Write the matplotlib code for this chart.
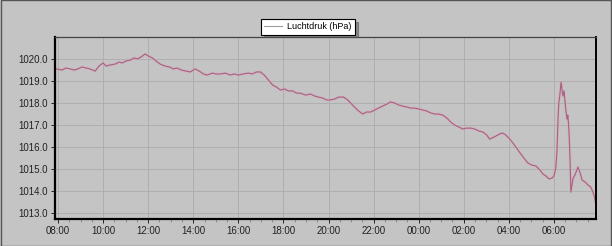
import matplotlib
matplotlib.use("Agg")
import matplotlib.pyplot as plt
import matplotlib.dates as mdates
import numpy as np
from datetime import datetime, timedelta

# minuten na 08:00 en luchtdruk (hPa)
minutes = [-5, 11, 21, 32, 43, 53, 64, 75, 85, 99, 109, 120, 128, 139, 152, 163, 171, 181,
           192, 203, 211, 221, 232, 240, 251, 261, 272, 285, 296, 307, 317, 328, 341, 352,
           365, 376, 387, 397, 411, 421, 432, 445, 459, 469, 480, 493, 507, 517, 528, 539,
           549, 560, 571, 581, 592, 603, 613, 624, 635, 645, 659, 672, 683, 693, 704, 715,
           725, 736, 747, 760, 771, 779, 789, 800, 811, 821, 832, 843, 853, 864, 875, 885,
           896, 907, 917, 928, 939, 949, 960, 971, 981, 992, 1003, 1013, 1024, 1035, 1045,
           1056, 1067, 1077, 1088, 1099, 1109, 1120, 1131, 1141, 1149, 1160, 1171, 1181,
           1189, 1200, 1211, 1221, 1232, 1240, 1251, 1261, 1272, 1283, 1291, 1299, 1307,
           1315, 1320, 1325, 1328, 1331, 1333, 1336, 1339, 1341, 1344, 1347, 1349, 1352,
           1355, 1357, 1360, 1363, 1365, 1368, 1371, 1376, 1384, 1389, 1395, 1403, 1411,
           1418, 1424, 1428, 1431]
pressure = [1019.55, 1019.50, 1019.59, 1019.55, 1019.50, 1019.55, 1019.64, 1019.59, 1019.55,
            1019.45, 1019.68, 1019.82, 1019.68, 1019.73, 1019.77, 1019.86, 1019.82, 1019.91,
            1019.95, 1020.05, 1020.00, 1020.09, 1020.23, 1020.14, 1020.05, 1019.91, 1019.77,
            1019.68, 1019.64, 1019.55, 1019.59, 1019.50, 1019.45, 1019.41,
            1019.55, 1019.45, 1019.32, 1019.27, 1019.36, 1019.32, 1019.32, 1019.36, 1019.27,
            1019.32, 1019.27, 1019.32, 1019.36, 1019.32, 1019.41, 1019.41,
            1019.27, 1019.05, 1018.82, 1018.73, 1018.59, 1018.64, 1018.55, 1018.55, 1018.45,
            1018.45, 1018.36, 1018.41, 1018.32, 1018.27, 1018.23, 1018.14,
            1018.14, 1018.18, 1018.27, 1018.27, 1018.14, 1018.00, 1017.82, 1017.64, 1017.50,
            1017.59, 1017.59, 1017.68, 1017.77, 1017.86, 1017.95, 1018.05,
            1018.00, 1017.91, 1017.86, 1017.82, 1017.77, 1017.77, 1017.73, 1017.68, 1017.64,
            1017.55, 1017.50, 1017.50, 1017.45, 1017.32, 1017.14,
            1017.00, 1016.91, 1016.82, 1016.86, 1016.86, 1016.82, 1016.73, 1016.68, 1016.55,
            1016.36, 1016.45, 1016.55, 1016.64,
            1016.59, 1016.41, 1016.18, 1015.95, 1015.68, 1015.50, 1015.27, 1015.18, 1015.14,
            1014.95, 1014.77, 1014.68, 1014.55,
            1014.59, 1014.68, 1015.05, 1015.77, 1017.32, 1018.00, 1018.41, 1018.95, 1018.68,
            1018.32, 1018.55, 1018.14, 1017.64,
            1017.27, 1017.45, 1016.77, 1015.41, 1013.95, 1014.27, 1014.59, 1014.73, 1015.09,
            1014.86, 1014.50, 1014.41, 1014.27,
            1014.18, 1013.95, 1013.73, 1013.45]

start = datetime(2012, 1, 1, 8, 0)
times = [start + timedelta(minutes=m) for m in minutes]

bg = "#c4c4c4"
fig = plt.figure(figsize=(6.12, 2.46), dpi=100, facecolor=bg)
ax = fig.add_axes((55 / 612, 27 / 246, 541 / 612, 182 / 246))
ax.set_facecolor(bg)

ax.plot(times, pressure, color="#d6aec0", lw=2.0, alpha=0.6, solid_joinstyle="round")
line, = ax.plot(times, pressure, color="#a8607f", lw=0.8, label="Luchtdruk (hPa)")

ax.set_xlim(start - timedelta(minutes=8), start + timedelta(minutes=1432))
ax.set_ylim(1012.73, 1021.0)
ax.set_yticks(np.arange(1013, 1021, 1.0))
ax.yaxis.set_major_formatter(matplotlib.ticker.FormatStrFormatter("%.1f"))
ax.xaxis.set_major_locator(mdates.HourLocator(byhour=range(0, 24, 2)))
ax.xaxis.set_minor_locator(mdates.MinuteLocator(byminute=[0, 30]))
ax.xaxis.set_major_formatter(mdates.DateFormatter("%H:%M"))

ax.grid(True, which="major", color="#acacac", lw=0.6)
ax.tick_params(axis="both", which="major", labelsize=7, length=3, width=0.7,
               colors="#222222", pad=2)
ax.tick_params(axis="x", which="minor", length=2, width=0.5, colors="#777777")
for lab in ax.get_xticklabels() + ax.get_yticklabels():
    lab.set_fontfamily("Liberation Sans")

ax.spines["left"].set_linewidth(1.6)
ax.spines["bottom"].set_linewidth(1.6)
ax.spines["right"].set_linewidth(1.4)
ax.spines["top"].set_linewidth(0.9)
ax.spines["top"].set_color("#444444")

leg = fig.legend(handles=[line], loc="upper center", bbox_to_anchor=(0.503, 0.94),
                 frameon=True, fancybox=False, shadow=True,
                 prop={"family": "Liberation Sans", "size": 6.5},
                 handlelength=2.0, borderpad=0.35, handletextpad=0.6)
leg.get_frame().set_edgecolor("#000000")
leg.get_frame().set_linewidth(0.8)
leg.legend_handles[0].set_color("#a0a0a0")

# rand rond de figuur
fig.patches.append(plt.Rectangle((0.001, 0.002), 0.998, 0.996, transform=fig.transFigure,
                                 fill=False, edgecolor="#555555", lw=1.0))

fig.savefig("out.png", dpi=100, facecolor=bg)
